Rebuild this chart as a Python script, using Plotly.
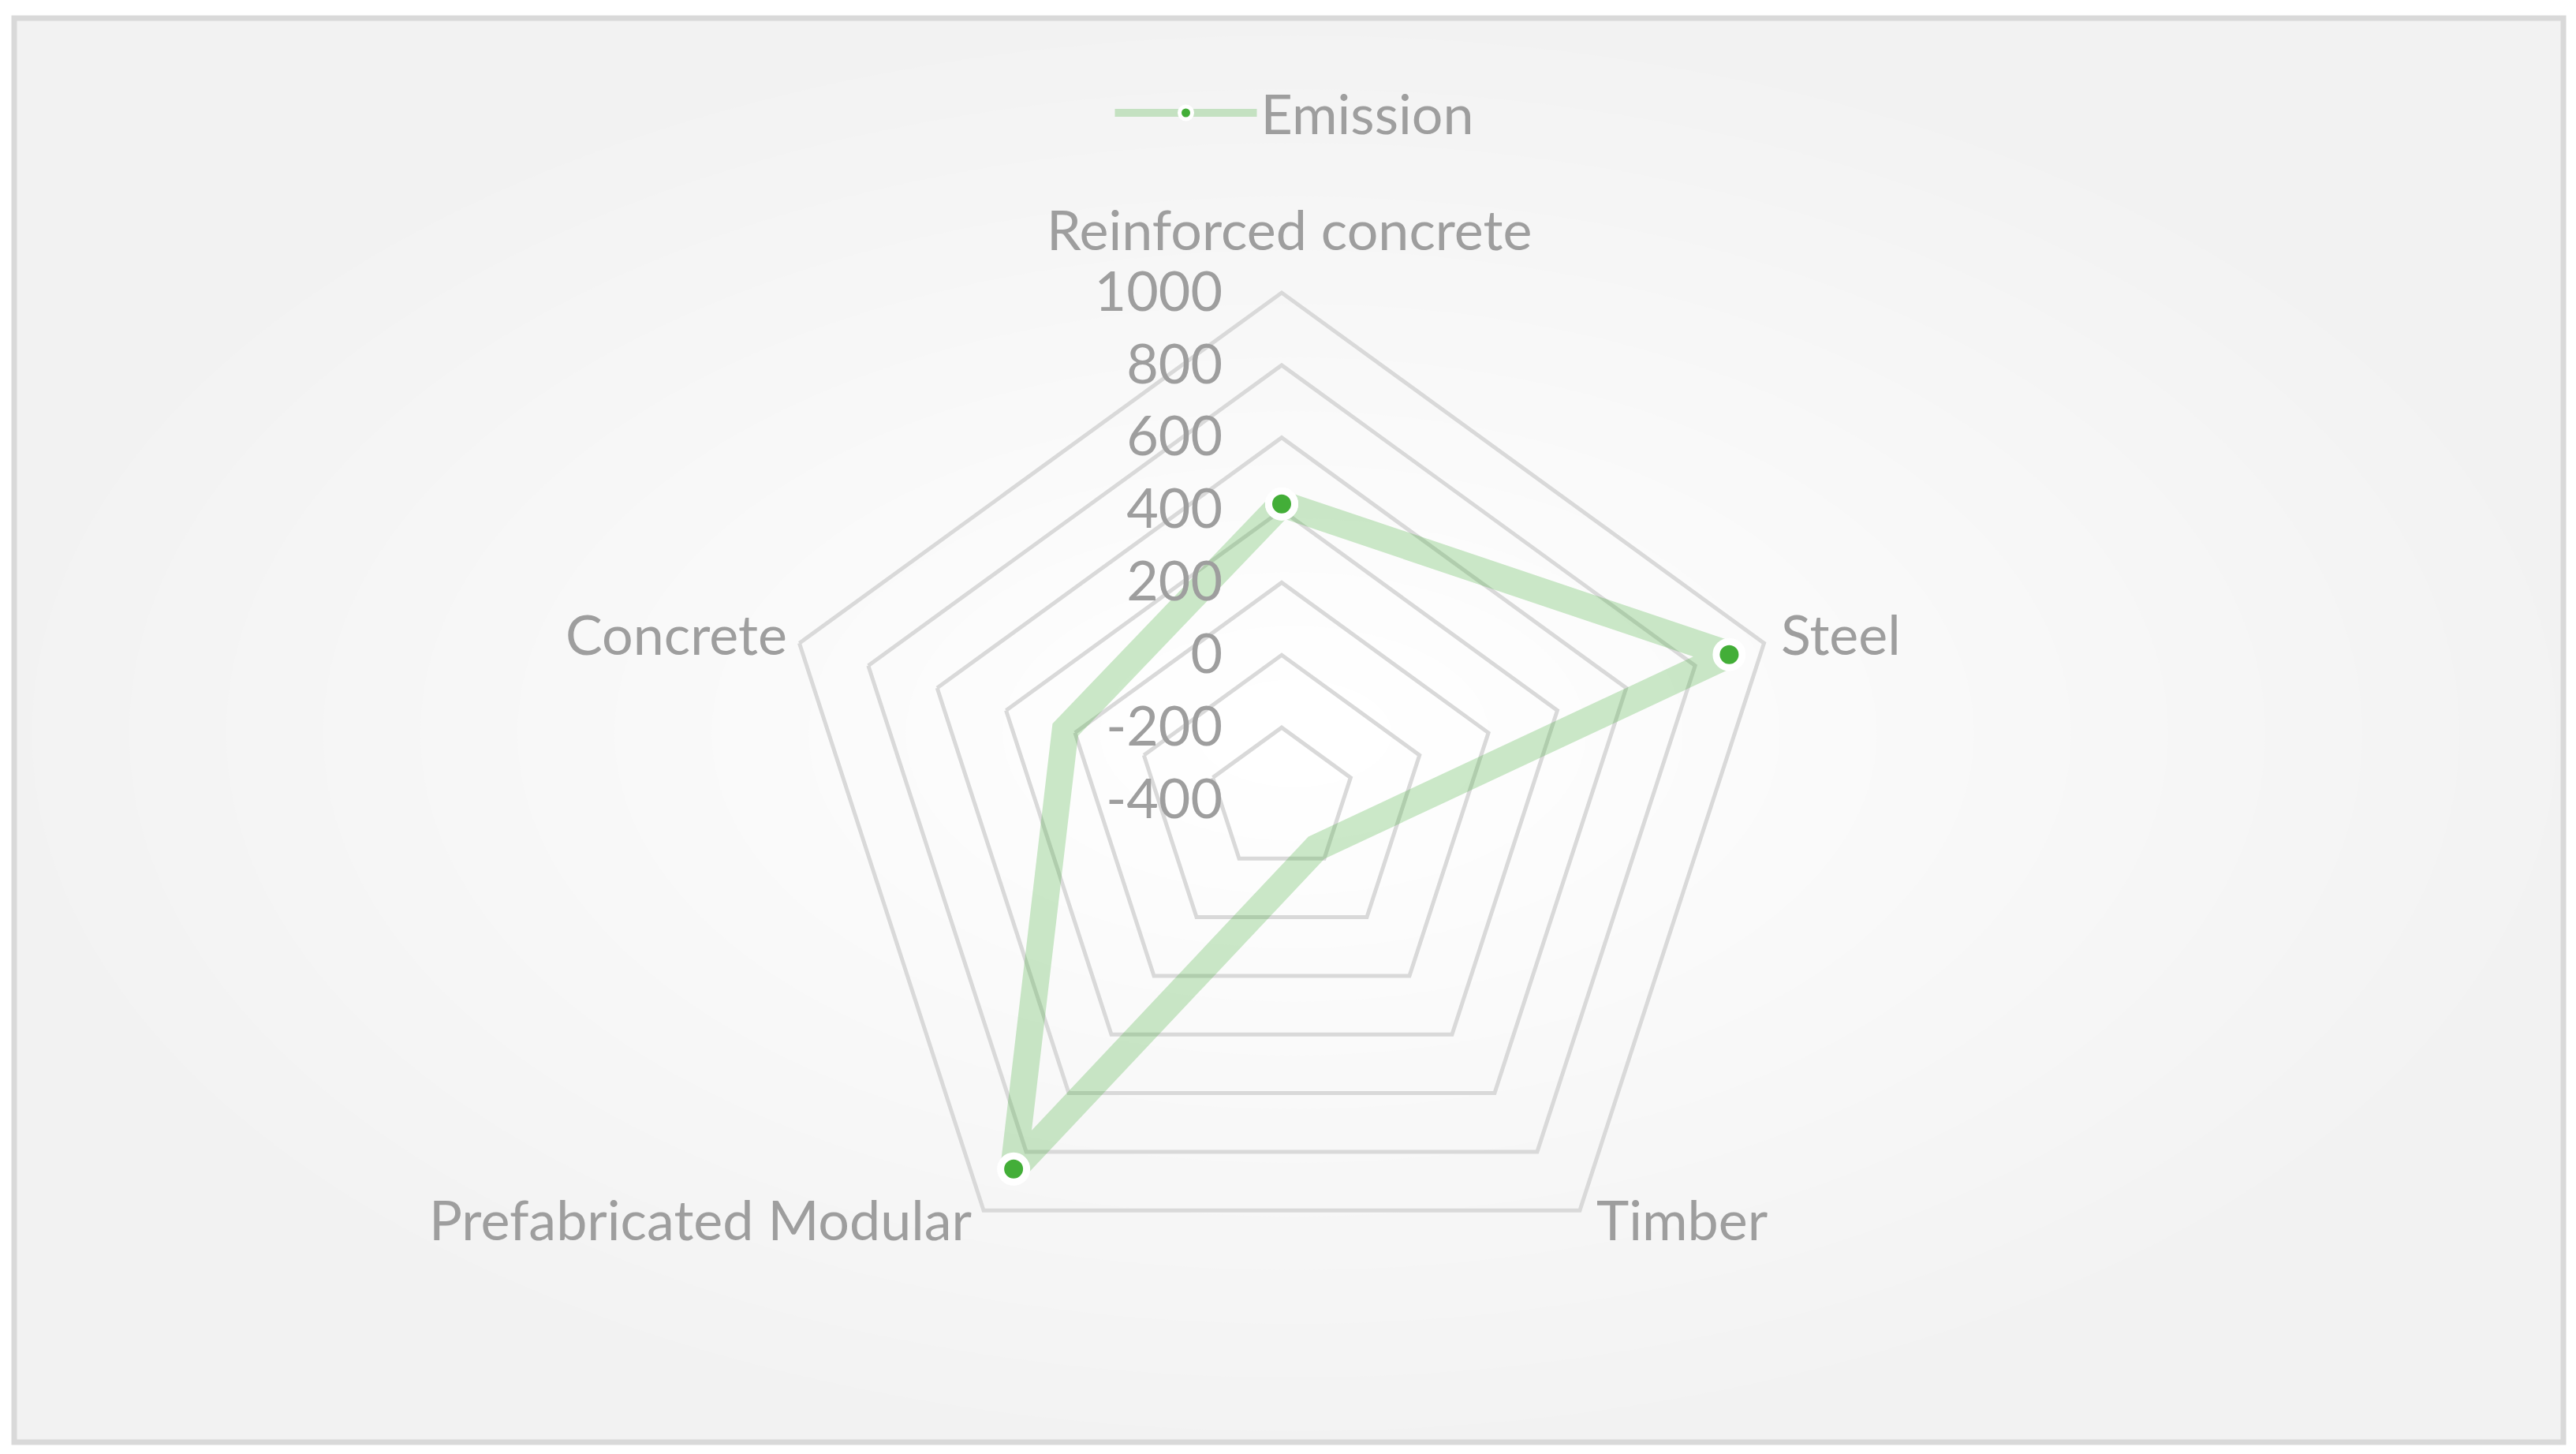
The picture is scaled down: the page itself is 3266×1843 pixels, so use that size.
"""
    Radar chart of emissions per construction type
"""

import math

import plotly.graph_objs as go

W, H = 3266, 1843

categories = ["Reinforced concrete", "Steel", "Timber", "Prefabricated Modular", "Concrete"]
emission = [417, 899, -237, 859, 228]
radial_ticks = [-400, -200, 0, 200, 400, 600, 800, 1000]
radial_labels = ["-400", "-200", "0", "200", "400", "600", "800", "1000"]

GREY_TXT = "#9E9E9E"
GRID = "#D9D9D9"
FONT = "Lato"
FSIZE = 70

# close the polygon
theta = categories + categories[:1]
r = emission + emission[:1]

data = [
    go.Scatterpolar(
        r=r, theta=theta, name="Emission", mode="lines+markers",
        line={"color": "rgba(67,174,56,0.27)", "width": 34},
        marker={"color": "#43AE38", "size": 33,
                "line": {"color": "white", "width": 9}},
    )
]

# background: grey frame with soft radial light in the middle
shapes = [dict(type="rect", xref="paper", yref="paper",
               x0=10 / W, x1=3242 / W, y0=1 - 1820 / H, y1=1 - 15 / H,
               fillcolor="#F2F2F2", line={"color": GRID, "width": 7},
               layer="below")]
steps = 13
for i in range(1, steps + 1):
    f = 1 - (i - 1) / steps
    level = 0xF2 + i
    col = "#%02X%02X%02X" % (level, level, level)
    rx = 0.49 * f
    ry = 0.48 * f
    shapes.append(dict(type="circle", xref="paper", yref="paper",
                       x0=0.5 - rx, x1=0.5 + rx, y0=0.5 - ry, y1=0.5 + ry,
                       fillcolor=col, line={"width": 0}, layer="below"))

# plot centre / radius in pixels (plotly draws ~9px right and ~7px low)
cx, cy, rad = 1617, 1006, 643
lx, ly = 1626, 1013   # where the polygon actually lands

# category labels placed next to the outer polygon corners, Excel style
annotations = []
for k, name in enumerate(categories):
    a = math.radians(360 / len(categories) * k)
    dx, dy = math.sin(a), -math.cos(a)
    vx, vy = lx + rad * dx, ly + rad * dy
    if abs(dx) < 0.1:
        px, py, xa = vx, vy - 88, "center"
    else:
        xa = "left" if dx > 0 else "right"
        px = vx + (10 if dx > 0 else -22)
        py = vy + (4 if dy > 0.5 else -19)
    annotations.append(dict(text=name, xref="paper", yref="paper",
                            x=px / W, y=1 - py / H, xanchor=xa, yanchor="middle",
                            showarrow=False,
                            font={"size": FSIZE, "color": GREY_TXT, "family": FONT}))

layout = go.Layout(
    width=W, height=H,
    margin={"l": 0, "r": 0, "t": 0, "b": 0},
    paper_bgcolor="white",
    font={"family": FONT, "color": GREY_TXT, "size": FSIZE},
    showlegend=True,
    legend={"orientation": "h", "x": 0.5, "xanchor": "center",
            "y": 1 - 135 / H, "yanchor": "middle",
            "font": {"size": FSIZE, "color": GREY_TXT},
            "bgcolor": "rgba(0,0,0,0)", "itemwidth": 180},
    shapes=shapes,
    annotations=annotations,
    polar={
        "domain": {"x": [(cx - rad) / W, (cx + rad) / W],
                   "y": [1 - (cy + rad) / H, 1 - (cy - rad) / H]},
        "bgcolor": "rgba(0,0,0,0)",
        "gridshape": "linear",
        "radialaxis": {"range": [-400, 1000], "tickvals": radial_ticks,
                       "ticktext": radial_labels,
                       "angle": 90, "tickangle": 90, "side": "counterclockwise",
                       "showline": False, "ticks": "outside", "ticklen": 50,
                       "tickcolor": "rgba(0,0,0,0)",
                       "gridcolor": GRID, "gridwidth": 5,
                       "tickfont": {"size": FSIZE, "color": GREY_TXT}},
        "angularaxis": {"rotation": 90, "direction": "clockwise",
                        "showgrid": False, "ticks": "", "showticklabels": False,
                        "linecolor": GRID, "linewidth": 5},
    },
)

fig = go.Figure(data=data, layout=layout)
fig.write_html("out.html")
